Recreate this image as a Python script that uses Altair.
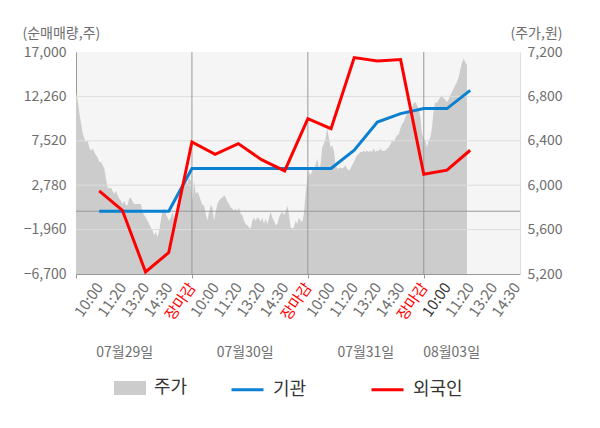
import json
import altair as alt
import pandas as pd
import numpy as np

FONT = "Noto Sans CJK KR"

# ---- x-axis (one slot per label) ----
x_labels = ["10:00", "11:20", "13:20", "14:30", "장마감",
            "10:00", "11:20", "13:20", "14:30", "장마감",
            "10:00", "11:20", "13:20", "14:30", "장마감",
            "10:00", "11:20", "13:20", "14:30"]
close_slots = [4, 9, 14]
current_slot = 15
dates = ["07월29일", "07월30일", "07월31일", "08월03일"]
date_slots = [1.1, 6.3, 11.5, 15.2]

# ---- net buying (left axis, shares) ----
line_slots = list(range(17))
inst = [0, 0, 0, 0, 4560, 4560, 4560, 4560, 4560, 4560, 4560,
        6510, 9530, 10420, 10960, 10960, 12910]
foreign = [2170, 100, -6480, -4410, 7390, 6080, 7220, 5500, 4300,
           9890, 8820, 16400, 16040, 16190, 3950, 4380, 6510]

# ---- price (right axis, won) ----
price_29 = [6830, 6770, 6650, 6560, 6470, 6420, 6390, 6400, 6340, 6310,
            6330, 6300, 6270, 6250, 6210, 6210, 6180, 6150, 6060, 5980,
            5970, 5980, 5950, 5920, 5950, 5910, 5880, 5860, 5830, 5860,
            5820, 5820, 5880, 5890, 5850, 5830, 5830, 5830, 5830, 5830,
            5760, 5730, 5710, 5680, 5650, 5620, 5590, 5550, 5580, 5530,
            5590, 5680, 5770, 5790, 5740, 5710, 5680, 5710, 5760, 5700,
            5680, 5800, 5890, 5920, 5950, 6010, 6040, 6010, 6070, 6040]
price_30 = [5850, 6040, 5920, 5940, 5910, 5860, 5820, 5820, 5740, 5680,
            5760, 5820, 5800, 5680, 5760, 5830, 5860, 5880, 5890, 5910,
            5890, 5850, 5830, 5800, 5790, 5770, 5790, 5760, 5800, 5740,
            5730, 5680, 5650, 5640, 5620, 5610, 5680, 5710, 5680, 5710,
            5700, 5670, 5710, 5650, 5700, 5650, 5700, 5760, 5710, 5680,
            5640, 5650, 5710, 5740, 5760, 5730, 5760, 5820, 5740, 5620,
            5610, 5620, 5680, 5650, 5710, 5680, 5670, 5740, 5920, 6040]
price_31_03 = [6120, 6090, 6130, 6150, 6180, 6240, 6160, 6180, 6340, 6370,
               6420, 6510, 6430, 6340, 6360, 6310, 6190, 6150, 6150, 6160,
               6150, 6160, 6180, 6150, 6130, 6150, 6180, 6210, 6240, 6270,
               6280, 6300, 6300, 6310, 6300, 6310, 6300, 6310, 6300, 6330,
               6300, 6310, 6310, 6330, 6310, 6310, 6310, 6330, 6340, 6370,
               6400, 6390, 6420, 6450, 6460, 6510, 6550, 6570, 6610, 6650,
               6660, 6670, 6700, 6740, 6750, 6720, 6690, 6610, 6460, 6420,
               6400, 6340, 6400, 6430, 6520, 6670, 6750, 6740, 6770, 6790,
               6810, 6780, 6770, 6750, 6770, 6810, 6840, 6870, 6900, 6930,
               6970, 7040, 7100, 7140, 7110, 7080]
price_first_slot = -1
price_last_slot = 15.86

left_ticks = [-6700, -1960, 2780, 7520, 12260, 17000]
right_ticks = [5200, 5600, 6000, 6400, 6800, 7200]
price_name = "주가"
price_color = "#cccccc"
line_names = ["기관", "외국인"]
line_colors = ["#0b80d0", "#ff0000"]

# ---- tables ----
price = price_29 + price_30 + price_31_03
price_df = pd.DataFrame({
    "slot": np.linspace(price_first_slot, price_last_slot, len(price)),
    "price": price,
    "series": price_name,
})
inst_df = pd.DataFrame({"slot": line_slots, "v": inst, "series": line_names[0]})
foreign_df = pd.DataFrame({"slot": line_slots, "v": foreign, "series": line_names[1]})
grid_df = pd.DataFrame({"v": left_ticks[1:-1]})
zero_df = pd.DataFrame({"v": [0]})
vline_df = pd.DataFrame({"slot": close_slots})
date_df = pd.DataFrame({"slot": date_slots, "d": dates})

# ---- scales / axes ----
x_domain = [price_first_slot, 18.15]
lab_expr = "datum.value < 0 ? '' : " + json.dumps(x_labels, ensure_ascii=False) + "[datum.value]"
red_test = " || ".join(f"datum.value == {s}" for s in close_slots)
tick_test = " || ".join(f"datum.value == {s}" for s in [price_first_slot] + close_slots)

TXT = "#6e6e6e"
x_axis = alt.Axis(
    values=list(range(price_first_slot, len(x_labels))),
    labelExpr=lab_expr, labelAngle=305, labelFont=FONT, labelFontSize=15,
    labelColor={"condition": [{"test": red_test, "value": "#ff0000"},
                              {"test": f"datum.value == {current_slot}", "value": "#333333"}],
                "value": TXT},
    tickColor={"condition": {"test": tick_test, "value": "#999999"}, "value": "transparent"},
    tickSize=4, labelPadding=6, domainColor="#999999", grid=False, title=None,
    labelOverlap=False, labelBound=False,
)
x_scale = alt.Scale(domain=x_domain, nice=False, zero=False)


def X(field="slot"):
    return alt.X(f"{field}:Q", scale=x_scale, axis=x_axis)


left_scale = alt.Scale(domain=[left_ticks[0], left_ticks[-1]], nice=False, zero=False)
right_scale = alt.Scale(domain=[right_ticks[0], right_ticks[-1]], nice=False, zero=False)

left_axis = alt.Axis(
    orient="left", values=left_ticks, format=",d", labelFont=FONT, labelFontSize=14,
    labelColor=TXT, ticks=False, tickSize=0, labelPadding=10, grid=False,
    domainColor="#999999", title="(순매매량,주)", titleAngle=0, titleAlign="left",
    titleBaseline="middle", titleX=-54, titleY=-19, titleFont=FONT, titleFontSize=14,
    titleFontWeight="normal", titleColor=TXT,
)
right_axis = alt.Axis(
    orient="right", values=right_ticks, format=",d", labelFont=FONT, labelFontSize=14,
    labelColor=TXT, ticks=False, tickSize=0, labelPadding=7, grid=False,
    domainColor="#dddddd", title="(주가,원)", titleAngle=0, titleAlign="right",
    titleBaseline="middle", titleX=42, titleY=-19, titleFont=FONT, titleFontSize=14,
    titleFontWeight="normal", titleColor=TXT,
)

fill_legend = alt.Legend(
    title=None, orient="none", legendX=38, legendY=320, direction="horizontal",
    symbolType="M-1,-0.4375H1V0.4375H-1Z", symbolSize=1024, symbolStrokeWidth=0,
    labelFont=FONT, labelFontSize=18, labelColor="#333333", labelOffset=8, padding=0,
)
stroke_legend = alt.Legend(
    title=None, orient="none", legendX=154, legendY=320, direction="horizontal",
    symbolType="stroke", symbolSize=1024, symbolStrokeWidth=3,
    labelFont=FONT, labelFontSize=18, labelColor="#333333", labelOffset=8,
    columnPadding=58, padding=0,
)
fill_enc = alt.Fill("series:N", scale=alt.Scale(domain=[price_name], range=[price_color]),
                    legend=fill_legend)
stroke_enc = alt.Stroke("series:N", scale=alt.Scale(domain=line_names, range=line_colors),
                        legend=stroke_legend)

area = alt.Chart(price_df).mark_area(opacity=1, interpolate="linear").encode(
    x=X(),
    y=alt.Y("price:Q", scale=right_scale, axis=right_axis),
    y2=alt.datum(right_ticks[0]),
    fill=fill_enc,
)
grid = alt.Chart(grid_df).mark_rule(color="#dddddd", strokeWidth=1).encode(
    y=alt.Y("v:Q", scale=left_scale, axis=None)
)
zero = alt.Chart(zero_df).mark_rule(color="#999999", strokeWidth=1).encode(
    y=alt.Y("v:Q", scale=left_scale, axis=None)
)
vlines = alt.Chart(vline_df).mark_rule(color="#999999", strokeWidth=1).encode(x=X())
inst_line = alt.Chart(inst_df).mark_line(strokeWidth=3).encode(
    x=X(), y=alt.Y("v:Q", scale=left_scale, axis=left_axis), stroke=stroke_enc
)
foreign_line = alt.Chart(foreign_df).mark_line(strokeWidth=3).encode(
    x=X(), y=alt.Y("v:Q", scale=left_scale, axis=None), stroke=stroke_enc
)
date_text = alt.Chart(date_df).mark_text(
    font=FONT, fontSize=14, color=TXT, align="center", baseline="middle"
).encode(x=X(), y=alt.value(301), text="d:N")

chart = alt.layer(area, grid, zero, vlines, inst_line, foreign_line, date_text).resolve_scale(
    y="independent"
).properties(
    width=444, height=222,
    autosize=alt.AutoSizeParams(type="none"),
    padding={"left": 68, "top": 44, "right": 72, "bottom": 130},
).configure_view(fill="#f5f5f5", stroke=None)

chart.save("out.html", embed_options={"renderer": "svg", "actions": False})
